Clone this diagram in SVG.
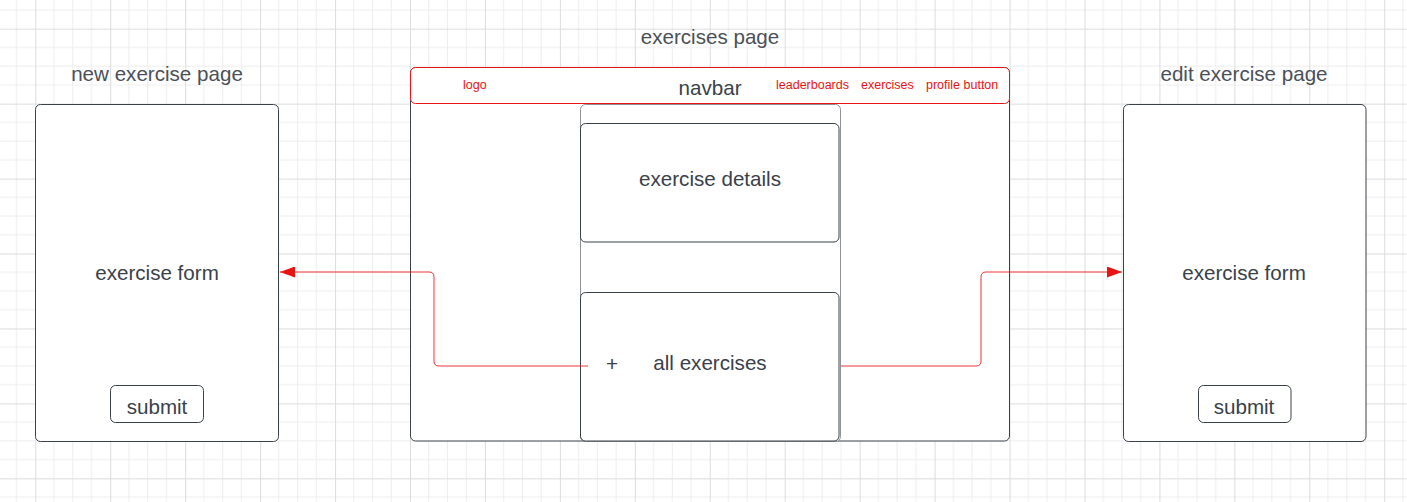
<svg xmlns="http://www.w3.org/2000/svg" width="1407" height="502" viewBox="0 0 1407 502">
  <defs>
    <!-- canvas grid: minor lines every 18.735px, major every 4 cells -->
    <pattern id="grid" patternUnits="userSpaceOnUse" x="35.3" y="28.7" width="74.94" height="74.94">
      <path d="M18.735 0V74.94M37.47 0V74.94M56.205 0V74.94M0 18.735H74.94M0 37.47H74.94M0 56.205H74.94" stroke="#ededed" stroke-width="1" fill="none"/>
      <path d="M0.5 0V74.94M0 0.5H74.94" stroke="#dcdcdc" stroke-width="1" fill="none"/>
    </pattern>
    <marker id="arrow" viewBox="0 0 15 11" refX="15" refY="5.5" markerWidth="15" markerHeight="11" markerUnits="userSpaceOnUse" orient="auto">
      <path d="M0 0L15 5.5L0 11Z" fill="#e81313"/>
    </marker>
  </defs>
  <style>
    .box { fill: #ffffff; stroke: #3a414a; stroke-width: 1; }
    .col { fill: #ffffff; stroke: #8e9297; stroke-width: 1; }
    .nav { fill: #ffffff; stroke: #e81313; stroke-width: 1; }
    .title { font-family: "Liberation Sans", Arial, sans-serif; font-size: 20.6px; fill: #4b5058; text-anchor: middle; }
    .label { font-family: "Liberation Sans", Arial, sans-serif; font-size: 20.6px; fill: #3a414a; text-anchor: middle; }
    .link { font-family: "Liberation Sans", Arial, sans-serif; font-size: 12.5px; fill: #e81313; }
    .wire { fill: none; stroke: #e81313; stroke-width: 1; stroke-opacity: 0.85; }
  </style>

  <rect width="1407" height="502" fill="#ffffff"/>
  <rect width="1407" height="502" fill="url(#grid)"/>

  <!-- new exercise page -->
  <g id="new-exercise-page">
    <text class="title" x="157" y="81">new exercise page</text>
    <rect class="box" x="35.5" y="104.5" width="243" height="337" rx="5"/>
    <text class="label" x="157" y="280">exercise form</text>
    <g id="new-submit">
      <rect class="box" x="110.5" y="385.5" width="93" height="37" rx="5"/>
      <text class="label" x="157" y="414">submit</text>
    </g>
  </g>

  <!-- exercises page -->
  <g id="exercises-page">
    <text class="title" x="710" y="44">exercises page</text>
    <rect class="box" x="410.5" y="67.5" width="599" height="373.5" rx="5"/>
  </g>

  <g id="navbar">
    <rect class="nav" x="410.5" y="67.5" width="599" height="36" rx="5"/>
    <text class="label" x="710" y="95">navbar</text>
    <text class="link" x="463" y="89">logo</text>
    <text class="link" x="776" y="89">leaderboards</text>
    <text class="link" x="861" y="89">exercises</text>
    <text class="link" x="926" y="89">profile button</text>
  </g>

  <g id="content-column">
    <rect class="col" x="580.5" y="104.5" width="260" height="337" rx="5"/>
  </g>

  <g id="exercise-details">
    <rect class="box" x="580.5" y="123.5" width="258.5" height="118.5" rx="5"/>
    <text class="label" x="710" y="186">exercise details</text>
  </g>

  <g id="all-exercises">
    <rect class="box" x="580.5" y="292.5" width="258.5" height="148.5" rx="5"/>
    <text class="label" x="612" y="371">+</text>
    <text class="label" x="710" y="370">all exercises</text>
  </g>

  <!-- edit exercise page -->
  <g id="edit-exercise-page">
    <text class="title" x="1244" y="81">edit exercise page</text>
    <rect class="box" x="1123.5" y="104.5" width="242.5" height="337" rx="5"/>
    <text class="label" x="1244" y="280">exercise form</text>
    <g id="edit-submit">
      <rect class="box" x="1198.5" y="385.5" width="92.5" height="37" rx="5"/>
      <text class="label" x="1244" y="414">submit</text>
    </g>
  </g>

  <!-- connectors -->
  <g id="connectors">
    <path class="wire" d="M588 366H439Q434 366 434 361V277Q434 272 429 272H280" marker-end="url(#arrow)"/>
    <path class="wire" d="M841 366H976Q981 366 981 361V277Q981 272 986 272H1122" marker-end="url(#arrow)"/>
  </g>
</svg>
